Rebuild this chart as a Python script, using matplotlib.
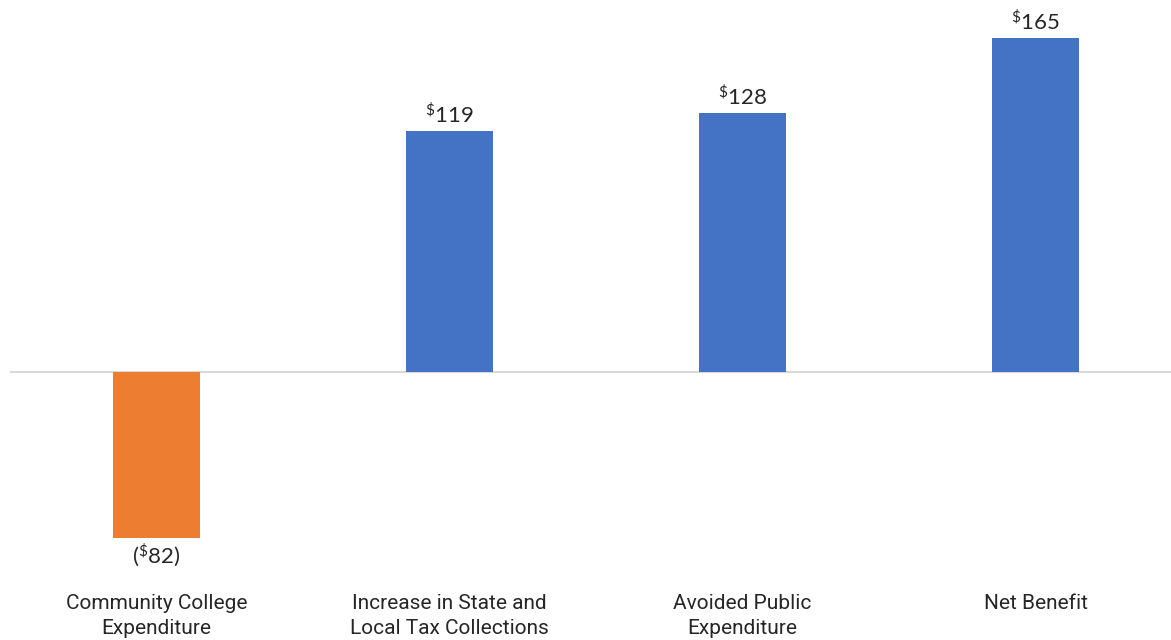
import matplotlib
matplotlib.use("Agg")
import matplotlib.pyplot as plt
from matplotlib import font_manager

categories = ["Community College\nExpenditure",
              "Increase in State and\nLocal Tax Collections",
              "Avoided Public\nExpenditure",
              "Net Benefit"]
values = [-82, 119, 128, 165]
colors = ["#ED7D31", "#4472C4", "#4472C4", "#4472C4"]

available = {f.name for f in font_manager.fontManager.ttflist}
cat_font = "Liberation Sans Narrow" if "Liberation Sans Narrow" in available else "Roboto"
val_font = "Lato" if "Lato" in available else "DejaVu Sans"

plt.rcParams["mathtext.fontset"] = "custom"
plt.rcParams["mathtext.rm"] = val_font
plt.rcParams["mathtext.it"] = val_font
plt.rcParams["mathtext.default"] = "rm"

W, H = 1171, 640
fig = plt.figure(figsize=(W / 100, H / 100), dpi=100)
# axes spans from the left margin to past the right edge, bottom above category labels
left_px, right_px = 10, 1182
top_px, bottom_px = 0, 580
ax = fig.add_axes([left_px / W, 1 - bottom_px / H,
                   (right_px - left_px) / W, (bottom_px - top_px) / H])

x = list(range(len(values)))
bars = ax.bar(x, values, width=0.30, color=colors, zorder=3)

ax.set_xlim(-0.5, 3.5)
zero_px = 371.7
scale = 2.025
ax.set_ylim(-(bottom_px - zero_px) / scale, (zero_px - top_px) / scale)

ax.axhline(0, color="#D9D9D9", linewidth=1.5, zorder=2)
for s in ax.spines.values():
    s.set_visible(False)
ax.set_yticks([])
ax.set_xticks(x)
ax.set_xticklabels(categories, fontsize=15, family=cat_font, color="#262626",
                   linespacing=1.38)
ax.tick_params(axis="x", length=0, pad=10)

for xi, v in zip(x, values):
    if v >= 0:
        label = r"$^{\$}$" + f"{v}"
        ax.annotate(label, xy=(xi, v), xytext=(0, 2), textcoords="offset points",
                    ha="center", va="bottom", fontsize=16, family=val_font,
                    color="#262626")
    else:
        label = "(" + r"$^{\$}$" + f"{abs(v)})"
        ax.annotate(label, xy=(xi, v), xytext=(0, -3), textcoords="offset points",
                    ha="center", va="top", fontsize=16, family=val_font,
                    color="#262626")

fig.savefig("out.png", dpi=100)
